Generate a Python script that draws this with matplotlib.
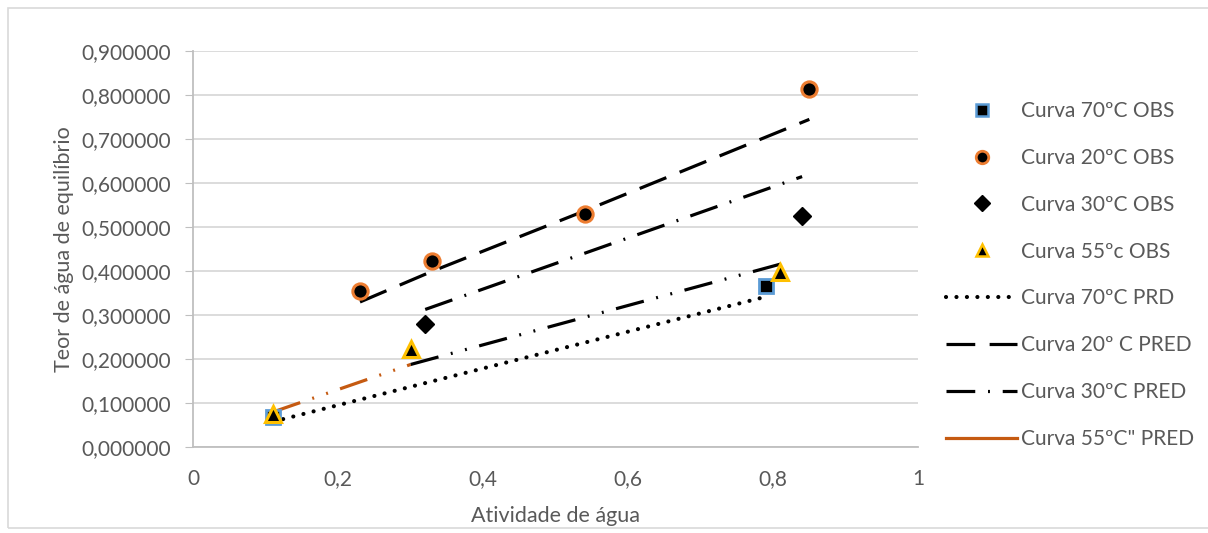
import numpy as np
import matplotlib
matplotlib.use('Agg')
import matplotlib.pyplot as plt
from matplotlib.patches import Rectangle
from matplotlib.lines import Line2D
from matplotlib.ticker import FuncFormatter

plt.rcParams['font.family'] = ['Lato', 'DejaVu Sans']

# observed points
x70_obs = [0.11, 0.79]
y70_obs = [0.068, 0.366]
x20_obs = [0.23, 0.33, 0.54, 0.85]
y20_obs = [0.354, 0.424, 0.529, 0.815]
x30_obs = [0.32, 0.84]
y30_obs = [0.279, 0.526]
x55_obs = [0.11, 0.30, 0.81]
y55_obs = [0.075, 0.223, 0.399]

# predicted curves
x70_pred = [0.11, 0.79]
y70_pred = [0.058, 0.342]
x20_pred = [0.23, 0.33, 0.54, 0.85]
y20_pred = [0.330, 0.400, 0.537, 0.745]
x30_pred = [0.32, 0.84]
y30_pred = [0.313, 0.615]
x55_pred = [0.11, 0.30, 0.81]
y55_pred = [0.080, 0.188, 0.416]

fig = plt.figure(figsize=(12.08, 5.33), dpi=100)
fig.patches.append(Rectangle((0.007, 0.01), 1.2, 0.975, transform=fig.transFigure,
                             fill=False, edgecolor='#d9d9d9', linewidth=1.2))
ax = fig.add_axes([0.16, 0.161, 0.6, 0.743])

lw = 2.3
dot = (0.01, 2.5)
ax.plot(x70_pred, y70_pred, color='black', lw=3.0, dashes=dot, dash_capstyle='round', zorder=3)
ax.plot(x20_pred, y20_pred, color='black', lw=lw, dashes=(9, 4.5), zorder=3)
ax.plot(x30_pred, y30_pred, color='black', lw=lw, dashes=(9, 4, 0.6, 4), zorder=3)
ax.plot(x55_pred[:2], y55_pred[:2], color='#c55a11', lw=lw, dashes=(9, 4, 0.6, 4, 0.6, 4), zorder=3)
ax.plot(x55_pred[1:], y55_pred[1:], color='black', lw=lw, dashes=(9, 4, 0.6, 4, 0.6, 4), zorder=3)

ax.plot(x70_obs, y70_obs, 's', ms=10, mfc='black', mec='#5b9bd5', mew=2, zorder=4)
ax.plot(x20_obs, y20_obs, 'o', ms=11, mfc='black', mec='#ed7d31', mew=2.2, zorder=4)
ax.plot(x30_obs, y30_obs, 'D', ms=9, mfc='black', mec='black', zorder=4)
ax.plot(x55_obs, y55_obs, '^', ms=12, mfc='black', mec='#ffc000', mew=2.2, zorder=5)

ax.set_xlim(0, 1)
ax.set_ylim(0, 0.9)
ax.set_xticks(np.arange(0, 1.01, 0.2))
ax.set_yticks(np.arange(0, 0.91, 0.1))
ax.xaxis.set_major_formatter(FuncFormatter(lambda v, p: '0' if v == 0 else ('1' if abs(v - 1) < 1e-9 else ('%.1f' % v).replace('.', ','))))
ax.yaxis.set_major_formatter(FuncFormatter(lambda v, p: ('%.6f' % v).replace('.', ',')))
ax.grid(axis='y', color='#d9d9d9', lw=1.3)
ax.set_axisbelow(True)
for s in ['top', 'right']:
    ax.spines[s].set_visible(False)
for s in ['left', 'bottom']:
    ax.spines[s].set_color('#bfbfbf')
    ax.spines[s].set_linewidth(1.3)
ax.tick_params(axis='x', length=0, pad=16, labelsize=15, labelcolor='#595959')
ax.tick_params(axis='y', length=6, pad=10, labelsize=15, labelcolor='#595959', color='#bfbfbf')
ax.set_xlabel('Atividade de água', fontsize=15.5, color='#595959', labelpad=12)
ax.set_ylabel('Teor de água de equilíbrio', fontsize=15.5, color='#595959', labelpad=5)

handles = [
    Line2D([], [], ls='none', marker='s', ms=8, mfc='black', mec='#5b9bd5', mew=1.8),
    Line2D([], [], ls='none', marker='o', ms=9, mfc='black', mec='#ed7d31', mew=2),
    Line2D([], [], ls='none', marker='D', ms=8, mfc='black', mec='black'),
    Line2D([], [], ls='none', marker='^', ms=9, mfc='black', mec='#ffc000', mew=1.8),
    Line2D([], [], color='black', lw=3.0, dashes=dot, dash_capstyle='round'),
    Line2D([], [], color='black', lw=lw, dashes=(9, 4.5)),
    Line2D([], [], color='black', lw=lw, dashes=(9, 4, 0.6, 4)),
    Line2D([], [], color='#c55a11', lw=lw),
]
labels = ['Curva 70ºC OBS', 'Curva 20ºC OBS', 'Curva 30ºC OBS', 'Curva 55ºc OBS',
          'Curva 70ºC PRD', 'Curva 20º C PRED', 'Curva 30ºC PRED', 'Curva 55ºC" PRED']
leg = fig.legend(handles, labels, loc='center left', bbox_to_anchor=(0.768, 0.484),
                 frameon=False, fontsize=15, labelspacing=1.29, handlelength=3.4,
                 handletextpad=0.2, labelcolor='#595959')

fig.savefig('out.png', dpi=100)
